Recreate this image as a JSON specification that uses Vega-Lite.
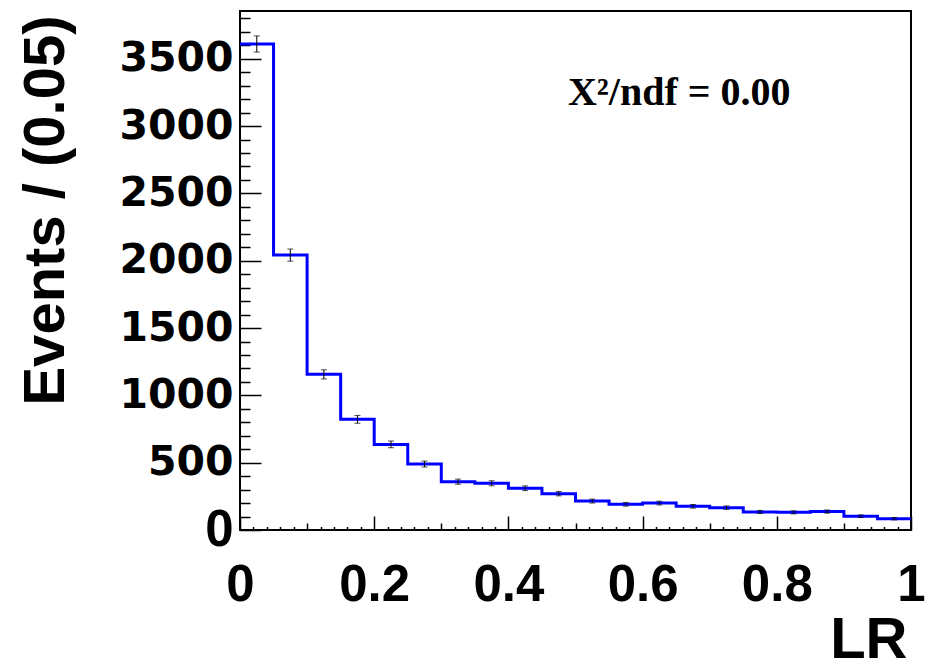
{
  "$schema": "https://vega.github.io/schema/vega-lite/v6.json",
  "width": 671,
  "height": 519,
  "autosize": "none",
  "padding": {"left": 240, "top": 11, "right": 21, "bottom": 139},
  "background": "white",
  "config": {"view": {"stroke": "black", "strokeWidth": 2}},
  "datasets": {
    "bins": [
      {"center": 0.025, "val": 3610, "err": 60},
      {"center": 0.075, "val": 2042, "err": 45},
      {"center": 0.125, "val": 1156, "err": 34},
      {"center": 0.175, "val": 822, "err": 29},
      {"center": 0.225, "val": 636, "err": 25},
      {"center": 0.275, "val": 490, "err": 22},
      {"center": 0.325, "val": 359, "err": 19},
      {"center": 0.375, "val": 347, "err": 18.6},
      {"center": 0.425, "val": 310, "err": 17.6},
      {"center": 0.475, "val": 270, "err": 16.4},
      {"center": 0.525, "val": 215, "err": 14.7},
      {"center": 0.575, "val": 191, "err": 13.8},
      {"center": 0.625, "val": 200, "err": 14.1},
      {"center": 0.675, "val": 176, "err": 13.3},
      {"center": 0.725, "val": 166, "err": 12.9},
      {"center": 0.775, "val": 134, "err": 11.6},
      {"center": 0.825, "val": 131, "err": 11.4},
      {"center": 0.875, "val": 137, "err": 11.7},
      {"center": 0.925, "val": 102, "err": 10.1},
      {"center": 0.975, "val": 84, "err": 9.2}
    ],
    "edges": [
      {"edge": 0.0, "val": 3610},
      {"edge": 0.05, "val": 2042},
      {"edge": 0.1, "val": 1156},
      {"edge": 0.15, "val": 822},
      {"edge": 0.2, "val": 636},
      {"edge": 0.25, "val": 490},
      {"edge": 0.3, "val": 359},
      {"edge": 0.35, "val": 347},
      {"edge": 0.4, "val": 310},
      {"edge": 0.45, "val": 270},
      {"edge": 0.5, "val": 215},
      {"edge": 0.55, "val": 191},
      {"edge": 0.6, "val": 200},
      {"edge": 0.65, "val": 176},
      {"edge": 0.7, "val": 166},
      {"edge": 0.75, "val": 134},
      {"edge": 0.8, "val": 131},
      {"edge": 0.85, "val": 137},
      {"edge": 0.9, "val": 102},
      {"edge": 0.95, "val": 84},
      {"edge": 1.0, "val": 84}
    ],
    "note": [
      {"x": 0.4888, "y": 3156, "label": "X²/ndf = 0.00"}
    ]
  },
  "resolve": {"axis": {"x": "independent", "y": "independent"}},
  "layer": [
    {
      "data": {"name": "edges"},
      "mark": {"type": "line", "interpolate": "step-after", "color": "#0000ff", "strokeWidth": 3},
      "encoding": {
        "x": {
          "field": "edge", "type": "quantitative",
          "scale": {"domain": [0, 1], "nice": false, "zero": false},
          "axis": {
            "orient": "bottom", "values": [0, 0.2, 0.4, 0.6, 0.8, 1], "format": "~g",
            "ticks": false, "domain": false, "grid": false,
            "labelFont": "Liberation Sans", "labelFontWeight": "bold", "labelFontSize": 51,
            "labelColor": "black", "labelBaseline": "alphabetic", "labelPadding": 70,
            "labelFlush": false, "labelOverlap": false, "labelAlign": "center",
            "title": "LR", "titleFont": "Liberation Sans", "titleFontWeight": "bold", "titleFontSize": 58,
            "titleColor": "black", "titleAnchor": "end", "titleAlign": "right", "titleBaseline": "alphabetic",
            "titleX": 667, "titleY": 127, "titleAngle": 0
          }
        },
        "y": {
          "field": "val", "type": "quantitative",
          "scale": {"domain": [0, 3855], "nice": false, "zero": false},
          "axis": {
            "orient": "left", "values": [0, 500, 1000, 1500, 2000, 2500, 3000, 3500], "format": "d",
            "ticks": false, "domain": false, "grid": false,
            "labelFont": {"condition": {"test": "datum.value === 0", "value": "Liberation Sans"}, "value": "DejaVu Sans"},
            "labelFontSize": {"condition": {"test": "datum.value === 0", "value": 51}, "value": 41},
            "labelFontWeight": "bold", "labelColor": "black", "labelBaseline": "middle", "labelPadding": 7,
            "labelFlush": false, "labelOverlap": false,
            "title": "Events / (0.05)", "titleFont": "Liberation Sans", "titleFontWeight": "bold", "titleFontSize": 58,
            "titleColor": "black", "titleAnchor": "end", "titleAlign": "right", "titleBaseline": "alphabetic",
            "titleAngle": -90, "titleX": -177, "titleY": 4
          }
        }
      }
    },
    {
      "data": {"name": "bins"},
      "mark": {"type": "errorbar", "color": "black", "thickness": 1, "ticks": {"size": 6, "color": "black", "thickness": 1}},
      "encoding": {
        "x": {"field": "center", "type": "quantitative", "scale": {"domain": [0, 1], "nice": false, "zero": false}, "axis": null},
        "y": {"field": "val", "type": "quantitative", "scale": {"domain": [0, 3855], "nice": false, "zero": false}, "axis": null},
        "yError": {"field": "err"}
      }
    },
    {
      "data": {"name": "bins"},
      "mark": {"type": "point", "opacity": 0},
      "encoding": {
        "x": {
          "field": "center", "type": "quantitative", "scale": {"domain": [0, 1], "nice": false, "zero": false},
          "axis": {"orient": "bottom", "values": [0, 0.2, 0.4, 0.6, 0.8, 1], "labels": false, "domain": false, "grid": false,
                   "tickSize": -14, "tickColor": "black", "tickWidth": 1.5, "title": null}
        },
        "y": {
          "field": "val", "type": "quantitative", "scale": {"domain": [0, 3855], "nice": false, "zero": false},
          "axis": {"orient": "left", "values": [0, 500, 1000, 1500, 2000, 2500, 3000, 3500], "labels": false, "domain": false, "grid": false,
                   "tickSize": -21, "tickColor": "black", "tickWidth": 1.5, "title": null}
        }
      }
    },
    {
      "data": {"name": "bins"},
      "mark": {"type": "point", "opacity": 0},
      "encoding": {
        "x": {
          "field": "center", "type": "quantitative", "scale": {"domain": [0, 1], "nice": false, "zero": false},
          "axis": {"orient": "bottom", "values": [0.1, 0.3, 0.5, 0.7, 0.9], "labels": false, "domain": false, "grid": false,
                   "tickSize": -7, "tickColor": "black", "tickWidth": 1.5, "title": null}
        },
        "y": {
          "field": "val", "type": "quantitative", "scale": {"domain": [0, 3855], "nice": false, "zero": false},
          "axis": {"orient": "left",
                   "values": [100, 200, 300, 400, 600, 700, 800, 900, 1100, 1200, 1300, 1400, 1600, 1700, 1800, 1900, 2100, 2200, 2300, 2400, 2600, 2700, 2800, 2900, 3100, 3200, 3300, 3400, 3600, 3700, 3800],
                   "labels": false, "domain": false, "grid": false,
                   "tickSize": -10, "tickColor": "black", "tickWidth": 1.5, "title": null}
        }
      }
    },
    {
      "data": {"name": "bins"},
      "mark": {"type": "point", "opacity": 0},
      "encoding": {
        "x": {
          "field": "center", "type": "quantitative", "scale": {"domain": [0, 1], "nice": false, "zero": false},
          "axis": {"orient": "bottom",
                   "values": [0.02, 0.04, 0.06, 0.08, 0.12, 0.14, 0.16, 0.18, 0.22, 0.24, 0.26, 0.28, 0.32, 0.34, 0.36, 0.38, 0.42, 0.44, 0.46, 0.48, 0.52, 0.54, 0.56, 0.58, 0.62, 0.64, 0.66, 0.68, 0.72, 0.74, 0.76, 0.78, 0.82, 0.84, 0.86, 0.88, 0.92, 0.94, 0.96, 0.98],
                   "labels": false, "domain": false, "grid": false,
                   "tickSize": -3.5, "tickColor": "black", "tickWidth": 1.5, "title": null}
        },
        "y": {"field": "val", "type": "quantitative", "scale": {"domain": [0, 3855], "nice": false, "zero": false}, "axis": null}
      }
    },
    {
      "data": {"name": "note"},
      "mark": {"type": "text", "font": "Liberation Serif", "fontWeight": "bold", "fontSize": 40, "align": "left", "baseline": "alphabetic", "color": "black"},
      "encoding": {
        "x": {"field": "x", "type": "quantitative", "scale": {"domain": [0, 1], "nice": false, "zero": false}, "axis": null},
        "y": {"field": "y", "type": "quantitative", "scale": {"domain": [0, 3855], "nice": false, "zero": false}, "axis": null},
        "text": {"field": "label"}
      }
    }
  ]
}
